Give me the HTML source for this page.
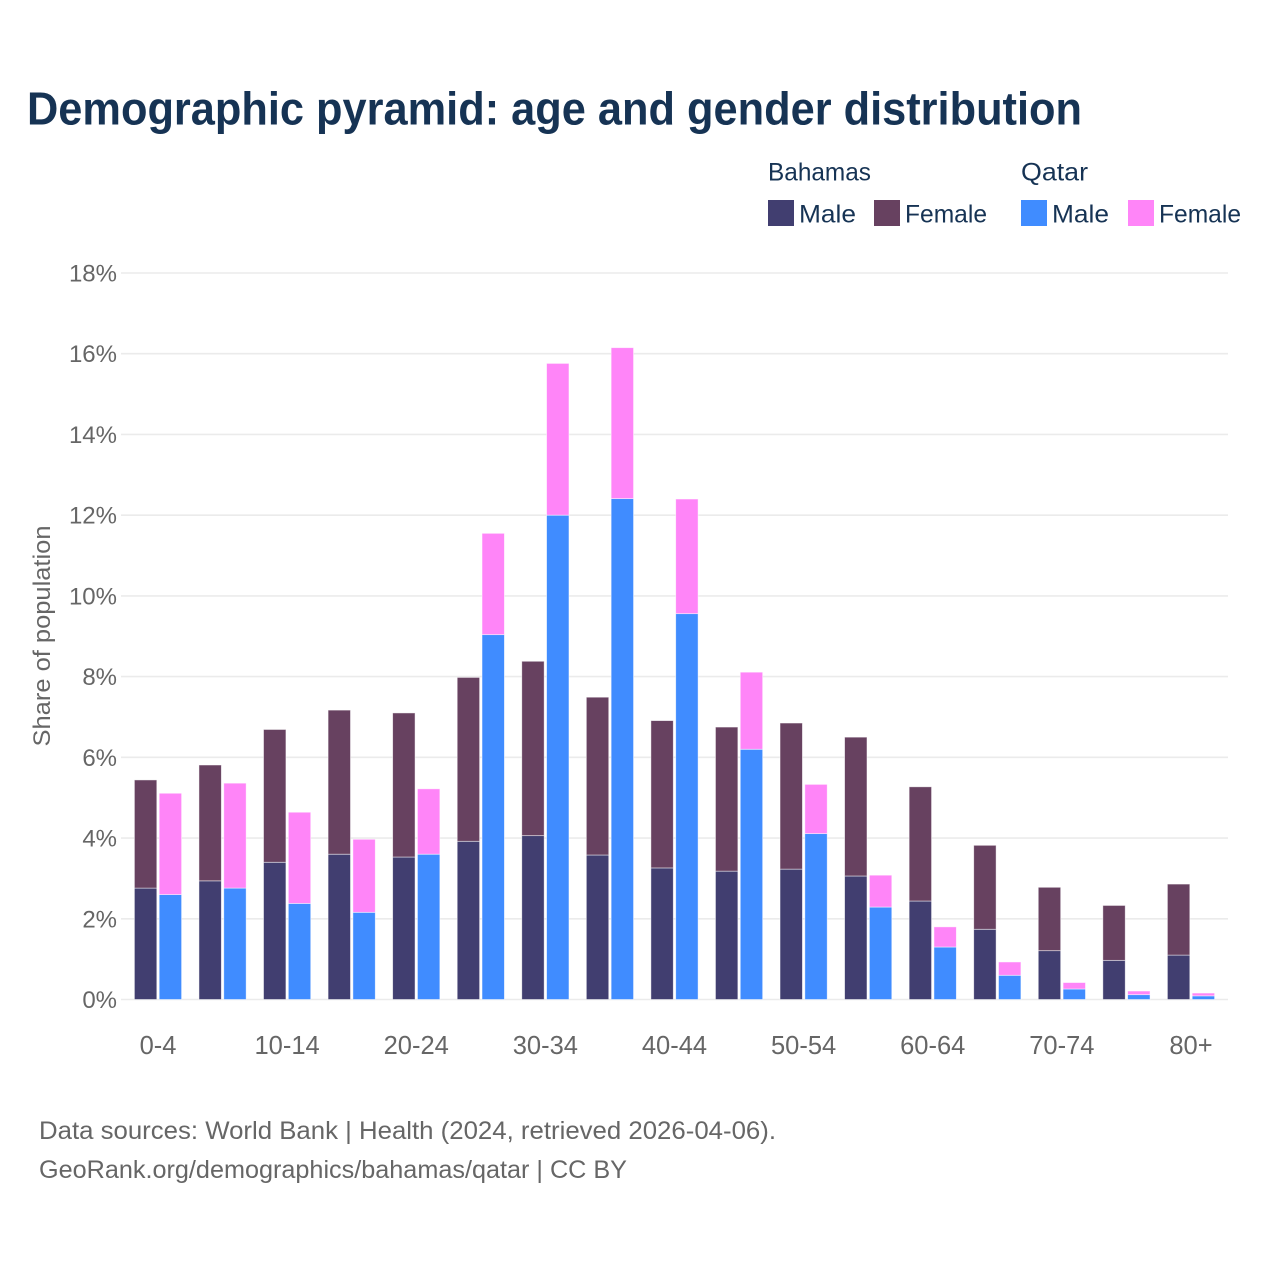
<!DOCTYPE html>
<html lang="en">
<head>
<meta charset="utf-8">
<title>Demographic pyramid</title>
<style>
html,body{margin:0;padding:0;background:#fff}
svg{display:block}
text{font-family:"Liberation Sans",Arial,sans-serif}
.tick{font-size:24px;fill:#666}
.legend{font-size:25px;fill:#163354}
.src{font-size:25px;fill:#666}
</style>
</head>
<body>
<svg id="chart" xmlns="http://www.w3.org/2000/svg" width="1280" height="1280" viewBox="0 0 1280 1280">
  <rect x="0" y="0" width="1280" height="1280" fill="#fff"/>
  <text x="27" y="124.5" font-size="46" font-weight="700" fill="#163354" textLength="1055" lengthAdjust="spacingAndGlyphs">Demographic pyramid: age and gender distribution</text>

  <g>
    <text class="legend" x="768" y="180.5" textLength="103" lengthAdjust="spacingAndGlyphs">Bahamas</text>
    <text class="legend" x="1021" y="180.5" textLength="67" lengthAdjust="spacingAndGlyphs">Qatar</text>
    <rect x="768" y="200" width="26" height="26" fill="#413e70"/>
    <text class="legend" x="799" y="222.5" textLength="57" lengthAdjust="spacingAndGlyphs">Male</text>
    <rect x="874" y="200" width="26" height="26" fill="#674160"/>
    <text class="legend" x="905" y="222.5" textLength="82" lengthAdjust="spacingAndGlyphs">Female</text>
    <rect x="1021" y="200" width="26" height="26" fill="#408cff"/>
    <text class="legend" x="1052" y="222.5" textLength="57" lengthAdjust="spacingAndGlyphs">Male</text>
    <rect x="1128" y="200" width="26" height="26" fill="#ff85f8"/>
    <text class="legend" x="1159" y="222.5" textLength="82" lengthAdjust="spacingAndGlyphs">Female</text>
  </g>

  <g id="grid"></g>
  <g id="bars"></g>
  <g id="yticks"></g>
  <g id="xticks"></g>

  <text transform="translate(50,636) rotate(-90)" text-anchor="middle" font-size="24" fill="#666" textLength="221" lengthAdjust="spacingAndGlyphs">Share of population</text>

  <text class="src" x="39" y="1139" textLength="737" lengthAdjust="spacingAndGlyphs">Data sources: World Bank | Health (2024, retrieved 2026-04-06).</text>
  <text class="src" x="39" y="1178" textLength="588" lengthAdjust="spacingAndGlyphs">GeoRank.org/demographics/bahamas/qatar | CC BY</text>
</svg>
<script>
const categories = ["0-4","5-9","10-14","15-19","20-24","25-29","30-34","35-39","40-44","45-49","50-54","55-59","60-64","65-69","70-74","75-79","80+"];
const bahamasMale = [2.76,2.94,3.40,3.60,3.53,3.92,4.06,3.58,3.26,3.18,3.23,3.06,2.44,1.74,1.21,0.97,1.10];
const bahamasFemale = [2.68,2.87,3.29,3.57,3.57,4.06,4.32,3.91,3.65,3.57,3.62,3.44,2.83,2.08,1.57,1.36,1.76];
const qatarMale = [2.60,2.76,2.38,2.16,3.60,9.04,12.00,12.41,9.56,6.20,4.11,2.29,1.30,0.60,0.26,0.12,0.09];
const qatarFemale = [2.51,2.60,2.26,1.81,1.62,2.51,3.76,3.74,2.84,1.91,1.22,0.79,0.50,0.33,0.16,0.09,0.07];
const yTickValues = [0,2,4,6,8,10,12,14,16,18];

const NS = "http://www.w3.org/2000/svg";
const yScale = v => 999.5 - v * (726.5 / 18);
const xBand = i => 158 + i * (1033 / 16);
const barW = 22.4;
const barOffset = 12.4;

const grid = document.getElementById("grid");
const yticks = document.getElementById("yticks");
const xticks = document.getElementById("xticks");
const bars = document.getElementById("bars");

yTickValues.forEach(v => {
  const line = document.createElementNS(NS, "line");
  line.setAttribute("x1", 121);
  line.setAttribute("x2", 1228);
  line.setAttribute("y1", yScale(v));
  line.setAttribute("y2", yScale(v));
  line.setAttribute("stroke", "#ebebeb");
  line.setAttribute("stroke-width", 1.6);
  
  
  grid.appendChild(line);

  const t = document.createElementNS(NS, "text");
  t.setAttribute("class", "tick");
  t.setAttribute("x", 117);
  t.setAttribute("y", yScale(v) + 8.5);
  t.setAttribute("text-anchor", "end");
  t.textContent = v + "%";
  
  
  yticks.appendChild(t);
});

categories.forEach((c, i) => {
  if (i % 2 === 0) {
    const t = document.createElementNS(NS, "text");
    t.setAttribute("class", "tick");
    t.setAttribute("style", "font-size:25.5px");
    t.setAttribute("x", xBand(i));
    t.setAttribute("y", 1054);
    t.setAttribute("text-anchor", "middle");
    t.textContent = c;
    
    
    xticks.appendChild(t);
  }
});

function drawBar(cx, base, value, fill, strokeOp) {
  const r = document.createElementNS(NS, "rect");
  const y0 = yScale(base);
  const y1 = yScale(base + value);
  r.setAttribute("x", cx - barW / 2);
  r.setAttribute("y", y1);
  r.setAttribute("width", barW);
  r.setAttribute("height", Math.max(y0 - y1, 0));
  r.setAttribute("fill", fill);
  r.setAttribute("stroke", "#fff");
  r.setAttribute("stroke-width", 0.8);
  r.setAttribute("stroke-opacity", strokeOp);
  
  
  bars.appendChild(r);
}

categories.forEach((c, i) => {
  const cx1 = xBand(i) - barOffset;
  const cx2 = xBand(i) + barOffset;
  drawBar(cx1, 0, bahamasMale[i], "#413e70", 0.6);
  drawBar(cx1, bahamasMale[i], bahamasFemale[i], "#674160", 0.6);
  drawBar(cx2, 0, qatarMale[i], "#408cff", 0.6);
  drawBar(cx2, qatarMale[i], qatarFemale[i], "#ff85f8", 0.6);
});
</script>
</body>
</html>
